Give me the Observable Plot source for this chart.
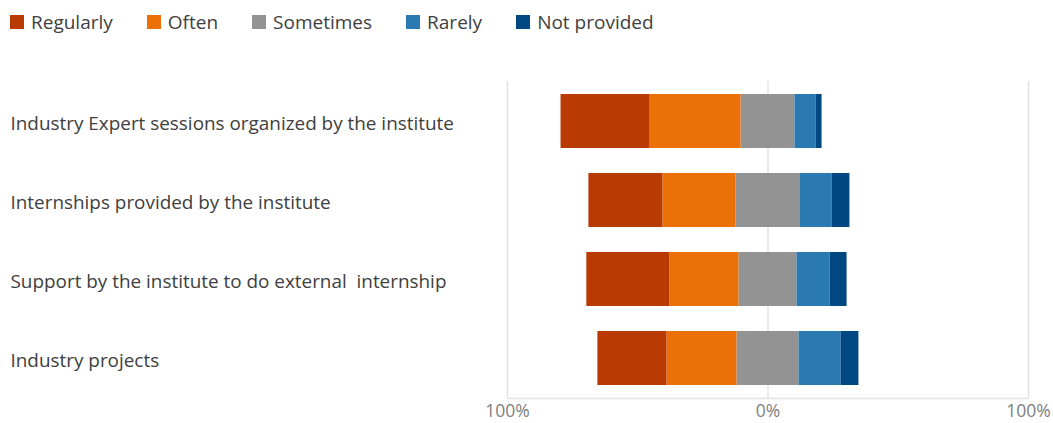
<!DOCTYPE html>
<html><head><meta charset="utf-8">
<script src="https://cdn.jsdelivr.net/npm/d3@7"></script>
<script src="https://cdn.jsdelivr.net/npm/@observablehq/plot@0.6"></script>
<style>
body{margin:0;background:#fff;font-family:"Open Sans",sans-serif;}
#legend{height:45px;display:flex;align-items:center;padding-left:10px;gap:34px;font-size:19px;color:#404040;box-sizing:border-box;padding-bottom:2px}
.item{display:flex;align-items:center;gap:7px}
.sw{width:14px;height:14px;display:inline-block}
svg text{white-space:pre}
</style></head><body>
<div id="legend"></div><div id="chart"></div>
<script>
const categories = [
  "Industry Expert sessions organized by the institute",
  "Internships provided by the institute",
  "Support by the institute to do external  internship",
  "Industry projects"
];
const responses = ["Regularly", "Often", "Sometimes", "Rarely", "Not provided"];
const colors = ["#BA3A03", "#EB7007", "#939393", "#2B79B1", "#004882"];
const regularly   = [34.2, 28.4, 31.9, 26.5];
const often       = [34.9, 28.1, 26.5, 26.9];
const sometimes   = [20.7, 24.5, 22.3, 23.8];
const rarely      = [8.1, 12.3, 12.7, 16.1];
const notProvided = [2.3, 6.9, 6.5, 6.9];
const xTicks = [-100, 0, 100];

// legend
const legend = d3.select("#legend");
responses.forEach((r, i) => {
  const it = legend.append("div").attr("class", "item");
  it.append("span").attr("class", "sw").style("background", colors[i]);
  it.append("span").text(r);
});

// diverging segments
const segs = [];
categories.forEach((c, i) => {
  const h = sometimes[i] / 2;
  segs.push({category: c, response: "Sometimes", x1: -h, x2: h});
  segs.push({category: c, response: "Often", x1: -h - often[i], x2: -h});
  segs.push({category: c, response: "Regularly", x1: -h - often[i] - regularly[i], x2: -h - often[i]});
  segs.push({category: c, response: "Rarely", x1: h, x2: h + rarely[i]});
  segs.push({category: c, response: "Not provided", x1: h + rarely[i], x2: h + rarely[i] + notProvided[i]});
});

const chart = Plot.plot({
  width: 1053,
  height: 378,
  marginTop: 36,
  marginBottom: 25,
  marginLeft: 507,
  marginRight: 25,
  style: {fontFamily: "'Open Sans', sans-serif", background: "#fff"},
  x: {domain: [-100, 100]},
  y: {domain: categories, paddingInner: 0.32, paddingOuter: 0.16, axis: null},
  color: {domain: responses, range: colors},
  marks: [
    Plot.ruleX(xTicks, {stroke: "#e3e3e3", strokeWidth: 1.5}),
    Plot.frame({anchor: "bottom", stroke: "#e3e3e3", strokeWidth: 1.5}),
    Plot.barX(segs, {x1: "x1", x2: "x2", y: "category", fill: "response"}),
    Plot.axisX({ticks: xTicks, tickFormat: d => Math.abs(d) + "%", tickSize: 0, tickPadding: 6, fontSize: 17.5, color: "#808080", label: null}),
    Plot.text(categories, {y: d => d, text: d => d, frameAnchor: "left", dx: -497, dy: 2, textAnchor: "start", fontSize: 18.9, fill: "#404040"})
  ]
});
document.getElementById("chart").appendChild(chart);
</script>
</body></html>
